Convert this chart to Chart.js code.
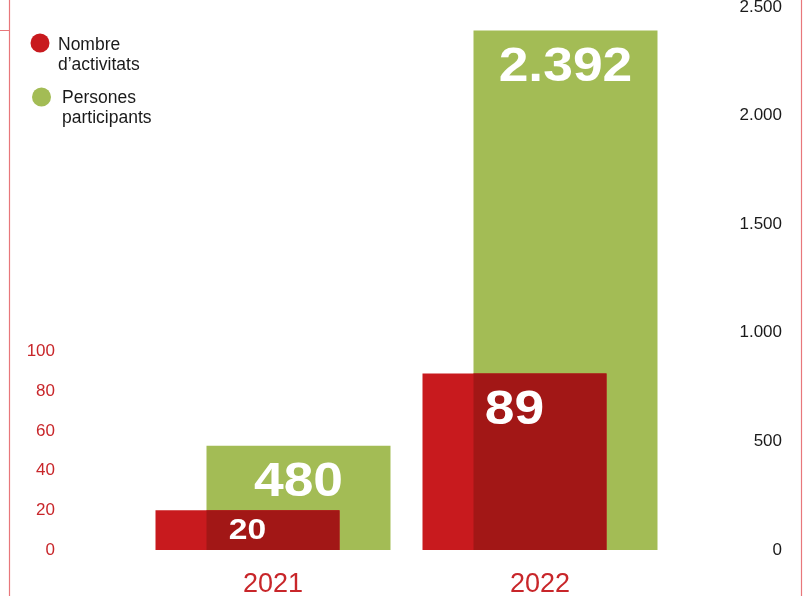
<!DOCTYPE html>
<html>
<head>
<meta charset="utf-8">
<script src="https://cdn.jsdelivr.net/npm/chart.js@4/dist/chart.umd.min.js"></script>
<style>
body { margin: 0; background: #fff; }
#wrap { position: relative; width: 811px; height: 596px; }
</style>
</head>
<body>
<div id="wrap"><canvas id="graphic"></canvas></div>
<script>
var years = ["2021", "2022"]
var activitats = [20, 89]
var participants = [480, 2392]
var seriesNames = ["Nombre d’activitats", "Persones participants"]
var leftTickMax = 100
var leftStep = 20
var rightMax = 2500
var rightStep = 500

var red = "#c81a1e"
var darkRed = "#a21716"
var green = "#a3bc55"
var textRed = "#c8262a"
var lineRed = "#e8777b"
var font = "'Liberation Sans', Arial, sans-serif"

function fmt(v) {
    return String(v).replace(/\B(?=(\d{3})+(?!\d))/g, ".")
}

// frame lines of the page
var framePlugin = {
    id: "frame",
    beforeDraw: function (chart) {
        var c = chart.ctx
        c.save()
        c.strokeStyle = lineRed
        c.lineWidth = 1.2
        c.beginPath()
        c.moveTo(9.5, 0); c.lineTo(9.5, chart.height)
        c.moveTo(801.5, 0); c.lineTo(801.5, chart.height)
        c.moveTo(0, 30.5); c.lineTo(9.5, 30.5)
        c.stroke()
        c.restore()
    }
}

// darker colour where the two bars overlap, then the white value labels
var barPlugin = {
    id: "barExtras",
    afterDatasetsDraw: function (chart) {
        var c = chart.ctx
        var m0 = chart.getDatasetMeta(0), m1 = chart.getDatasetMeta(1)
        c.save()
        m0.data.forEach(function (a, i) {
            var b = m1.data[i]
            var l = Math.max(a.x - a.width / 2, b.x - b.width / 2)
            var r = Math.min(a.x + a.width / 2, b.x + b.width / 2)
            var t = Math.max(a.y, b.y)
            var bo = Math.min(a.base, b.base)
            if (r > l && bo > t) {
                c.fillStyle = darkRed
                c.fillRect(l, t, r - l, bo - t)
            }
        })
        c.fillStyle = "#fff"
        c.textAlign = "center"
        c.textBaseline = "middle"
        ;[m0, m1].forEach(function (meta, d) {
            meta.data.forEach(function (el, i) {
                var v = chart.data.datasets[d].data[i]
                var h = el.base - el.y
                var y, sx
                if (h > 80) {
                    c.font = "bold 49px " + font
                    sx = 1.09
                    y = el.y + 37
                } else {
                    c.font = "bold 30px " + font
                    sx = 1.12
                    y = (el.y + el.base) / 2 + 1
                }
                c.save()
                c.translate(el.x, y)
                c.scale(sx, 1)
                c.fillText(fmt(v), 0, 0)
                c.restore()
            })
        })
        c.restore()
    }
}

// legend with two-line labels
var legendPlugin = {
    id: "legendLeft",
    afterDraw: function (chart) {
        var c = chart.ctx
        var pos = [{ cx: 40, cy: 43, tx: 58, ty: 50 }, { cx: 41.5, cy: 97, tx: 62, ty: 103 }]
        c.save()
        chart.data.datasets.forEach(function (ds, i) {
            var p = pos[i]
            c.fillStyle = ds.backgroundColor
            c.beginPath()
            c.arc(p.cx, p.cy, 9.5, 0, Math.PI * 2)
            c.fill()
            c.fillStyle = "#1a1a1a"
            c.font = "17.5px " + font
            c.textAlign = "left"
            c.textBaseline = "alphabetic"
            var parts = ds.label.split(" ")
            c.fillText(parts[0], p.tx, p.ty)
            c.fillText(parts.slice(1).join(" "), p.tx, p.ty + 19.5)
        })
        c.restore()
    }
}

var graph = new Chart(document.getElementById("graphic").getContext("2d"), {
    type: "bar",
    data: {
        labels: years,
        datasets: [{
            label: seriesNames[0],
            data: activitats,
            yAxisID: "y",
            backgroundColor: red,
            categoryPercentage: 0.382,
            barPercentage: 3.608
        },
        {
            label: seriesNames[1],
            data: participants,
            yAxisID: "y1",
            backgroundColor: green,
            categoryPercentage: 0.382,
            barPercentage: 3.608
        }]
    },
    options: {
        responsive: true,
        maintainAspectRatio: false,
        animation: false,
        layout: { padding: { left: 0, top: 0, bottom: 0, right: 29 } },
        plugins: {
            legend: { display: false },
            tooltip: { enabled: false }
        },
        scales: {
            x: {
                grid: { display: false, drawTicks: false },
                border: { display: false },
                ticks: { color: textRed, font: { family: font, size: 27 }, padding: 18 },
                afterFit: function (s) { s.height = 46 }
            },
            y: {
                position: "left",
                min: 0,
                max: 273.7,
                grid: { display: false, drawTicks: false },
                border: { display: false },
                ticks: { stepSize: leftStep, color: textRed, font: { family: font, size: 17 }, padding: 84.5 },
                afterBuildTicks: function (s) {
                    s.ticks = s.ticks.filter(function (t) { return t.value <= leftTickMax })
                },
                afterFit: function (s) { s.width = 139.5; s.paddingTop = 7; s.paddingBottom = 0 }
            },
            y1: {
                position: "right",
                min: 0,
                max: rightMax,
                grid: { display: false, drawTicks: false },
                border: { display: false },
                ticks: {
                    stepSize: rightStep, color: "#1a1a1a", font: { family: font, size: 17 },
                    padding: 10, crossAlign: "far",
                    callback: function (v) { return fmt(v) }
                },
                afterFit: function (s) { s.width = 108.5; s.paddingTop = 7; s.paddingBottom = 0 }
            }
        }
    },
    plugins: [framePlugin, barPlugin, legendPlugin]
})
</script>
</body>
</html>
